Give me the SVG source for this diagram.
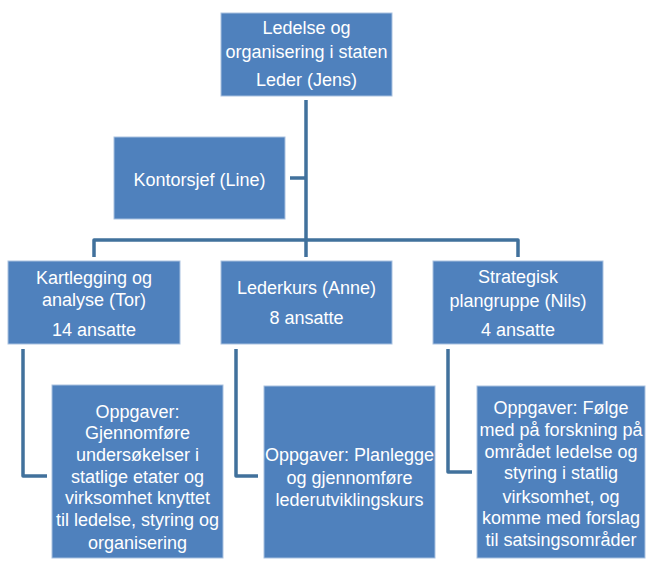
<svg xmlns="http://www.w3.org/2000/svg" width="646" height="563" viewBox="0 0 646 563">
<style>
.box{fill:#4f81bd;stroke:#a9c1e0;stroke-width:1}
.t{font-family:"Liberation Sans",Arial,sans-serif;font-size:18px;fill:#ffffff;text-anchor:middle}
.c{fill:none;stroke:#41719c;stroke-width:3.5;stroke-linejoin:round}
</style>
<rect width="646" height="563" fill="#ffffff"/>
<g id="connectors">
<path class="c" d="M306,100 V257"/>
<path class="c" d="M290,178 H306"/>
<path class="c" d="M94,257 V240 H518 V257"/>
<path class="c" d="M23,349 V476 H47"/>
<path class="c" d="M236,349 V476 H258"/>
<path class="c" d="M448,349 V472 H472"/>
</g>
<g id="leder">
<rect class="box" x="221" y="13" width="171" height="83"/>
<text class="t" x="306.5" y="34">Ledelse og</text>
<text class="t" x="306.5" y="58">organisering i staten</text>
<text class="t" x="306.5" y="86">Leder (Jens)</text>
</g>
<g id="kontorsjef">
<rect class="box" x="114" y="137" width="171" height="82"/>
<text class="t" x="199.5" y="186">Kontorsjef (Line)</text>
</g>
<g id="kartlegging">
<rect class="box" x="8" y="261" width="172" height="83"/>
<text class="t" x="94" y="284">Kartlegging og</text>
<text class="t" x="94" y="306">analyse (Tor)</text>
<text class="t" x="94" y="336">14 ansatte</text>
</g>
<g id="lederkurs">
<rect class="box" x="221" y="261" width="171" height="83"/>
<text class="t" x="306.5" y="294">Lederkurs (Anne)</text>
<text class="t" x="306.5" y="324">8 ansatte</text>
</g>
<g id="strategisk">
<rect class="box" x="433" y="261" width="170" height="83"/>
<text class="t" x="518" y="283">Strategisk</text>
<text class="t" x="518" y="307">plangruppe (Nils)</text>
<text class="t" x="518" y="336">4 ansatte</text>
</g>
<g id="oppgaver-kartlegging">
<rect class="box" x="52" y="385" width="171" height="173"/>
<text class="t" x="137.5" y="418">Oppgaver:</text>
<text class="t" x="137.5" y="439">Gjennomføre</text>
<text class="t" x="137.5" y="461">undersøkelser i</text>
<text class="t" x="137.5" y="483">statlige etater og</text>
<text class="t" x="137.5" y="504">virksomhet knyttet</text>
<text class="t" x="137.5" y="526">til ledelse, styring og</text>
<text class="t" x="137.5" y="549">organisering</text>
</g>
<g id="oppgaver-lederkurs">
<rect class="box" x="264" y="386" width="171" height="172"/>
<text class="t" x="349.5" y="461">Oppgaver: Planlegge</text>
<text class="t" x="349.5" y="484">og gjennomføre</text>
<text class="t" x="349.5" y="506">lederutviklingskurs</text>
</g>
<g id="oppgaver-strategisk">
<rect class="box" x="477" y="386" width="168" height="172"/>
<text class="t" x="561" y="414">Oppgaver: Følge</text>
<text class="t" x="561" y="436">med på forskning på</text>
<text class="t" x="561" y="458">området ledelse og</text>
<text class="t" x="561" y="479">styring i statlig</text>
<text class="t" x="561" y="503">virksomhet, og</text>
<text class="t" x="561" y="524">komme med forslag</text>
<text class="t" x="561" y="546">til satsingsområder</text>
</g>
</svg>
